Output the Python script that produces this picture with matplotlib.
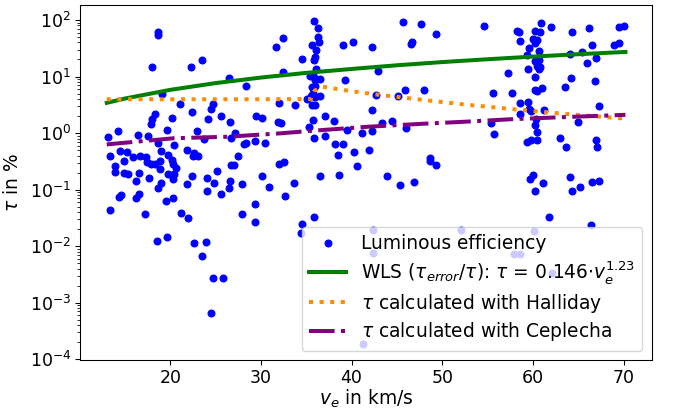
import numpy as np
import matplotlib
matplotlib.use('Agg')
import matplotlib.pyplot as plt

# --- Dati ---
# velocita' (km/s) e log10 dell'efficienza luminosa (%)
v_e = [
    18.7, 18.7, 18.0, 22.3, 23.5, 31.7, 26.5, 28.3, 19.1, 21.1,
    24.7, 24.5, 22.4, 18.3, 18.0, 17.9, 20.2, 24.2, 25.6, 26.6,
    29.5, 30.1, 32.0, 14.2, 13.1, 16.4, 17.6, 19.6, 23.0, 18.6,
    20.4, 23.7, 27.1, 26.7, 28.1, 28.4, 29.4, 30.5, 13.3, 14.5,
    15.2, 15.9, 16.7, 17.3, 17.4, 17.9, 18.3, 18.9, 19.0, 19.8,
    20.2, 20.3, 20.6, 21.9, 22.6, 23.1, 22.5, 14.9, 13.9, 13.9,
    14.9, 15.3, 16.5, 16.2, 17.7, 18.9, 19.0, 19.8, 20.2, 20.4,
    22.4, 24.0, 24.8, 25.1, 26.7, 27.0, 27.5, 30.1, 32.0, 26.6,
    27.9, 21.8, 20.3, 30.9, 18.6, 24.0, 26.5, 25.6, 14.3, 14.6,
    16.2, 16.5, 19.5, 20.3, 13.4, 17.2, 21.2, 22.0, 27.9, 29.4,
    29.3, 18.5, 19.6, 22.6, 23.9, 23.5, 24.7, 25.8, 24.5, 32.6,
    33.7, 34.5, 35.9, 34.4, 42.4, 42.4, 41.3, 45.3, 46.9, 52.1,
    59.7, 61.1, 60.2, 64.3, 65.2, 66.5, 67.3, 61.8, 66.4, 60.1,
    57.9, 58.6, 62.1, 60.0, 64.1, 35.9, 36.3, 36.3, 36.4, 35.6,
    36.1, 36.0, 35.9, 34.5, 32.4, 39.0, 40.1, 42.2, 45.7, 47.6,
    49.3, 46.7, 46.6, 32.4, 36.1, 35.4, 35.9, 36.5, 36.0, 39.3,
    42.9, 35.6, 36.0, 35.7, 35.5, 35.1, 36.0, 36.5, 35.6, 36.0,
    33.8, 42.2, 42.7, 45.1, 45.9, 48.0, 35.7, 37.1, 38.1, 31.9,
    32.2, 35.3, 35.9, 37.1, 39.5, 41.1, 42.3, 43.3, 44.4, 46.0,
    38.2, 39.1, 38.5, 40.3, 41.9, 48.6, 48.7, 49.3, 32.5, 40.6,
    36.5, 38.6, 43.9, 54.6, 58.2, 58.5, 60.9, 62.0, 60.2, 60.8,
    60.0, 60.5, 60.2, 58.6, 59.6, 60.7, 59.3, 60.2, 60.7, 64.3,
    66.2, 69.5, 70.0, 66.5, 68.9, 69.5, 65.4, 64.1, 66.9, 66.0,
    57.3, 59.4, 60.5, 60.7, 60.8, 60.2, 64.2, 66.8, 63.5, 55.6,
    57.7, 60.2, 60.4, 61.0, 58.6, 59.5, 59.6, 59.8, 61.2, 58.6,
    67.3, 60.3, 60.2, 55.4, 55.7, 65.0, 60.4, 59.3, 59.8, 60.5,
    63.0, 63.6, 67.0, 67.1,
]
log_tau = [
    1.78, 1.73, 1.16, 1.17, 1.29, 1.52, 0.98, 0.84, 0.69, 0.52,
    0.51, 0.42, 0.38, 0.34, 0.24, 0.16, 0.26, 0.24, 0.30, 0.20,
    0.30, 0.26, 0.53, 0.03, -0.07, -0.03, -0.05, 0.05, 0.03, -0.17,
    -0.21, -0.11, 0.00, -0.08, -0.20, -0.17, -0.14, -0.18, -0.41, -0.32,
    -0.34, -0.42, -0.41, -0.43, -0.51, -0.54, -0.54, -0.49, -0.31, -0.39,
    -0.48, -0.55, -0.61, -0.30, -0.35, -0.41, -0.40, -0.50, -0.58, -0.69,
    -0.71, -0.72, -0.70, -0.84, -0.79, -0.64, -0.88, -0.72, -0.74, -0.73,
    -0.76, -0.79, -0.88, -0.67, -0.57, -0.56, -0.41, -0.76, -0.54, -0.84,
    -0.90, -0.90, -0.81, -0.96, -0.97, -1.03, -0.97, -1.08, -1.13, -1.10,
    -1.14, -1.07, -1.21, -1.15, -1.36, -1.43, -1.41, -1.50, -1.44, -1.25,
    -1.57, -1.90, -1.84, -1.94, -1.93, -2.18, -2.56, -2.57, -3.19, -1.11,
    -0.88, -1.60, -1.48, -1.77, -1.72, -2.12, -3.73, -0.92, -0.86, -1.71,
    -0.82, -0.89, -1.03, -1.02, -0.95, -0.87, -0.84, -1.48, -1.63, -1.74,
    -2.13, -2.14, -2.47, -0.74, -0.78, 1.98, 1.85, 1.69, 1.61, 1.56,
    1.46, 1.35, 1.29, 1.31, 1.68, 1.56, 1.61, 1.53, 1.97, 1.92,
    1.76, 1.61, 1.57, 1.08, 1.13, 1.01, 1.00, 0.96, 0.93, 0.93,
    1.10, 0.81, 0.83, 0.71, 0.66, 0.60, 0.64, 0.65, 0.50, 0.50,
    0.50, 0.40, 0.68, 0.66, 0.76, 0.77, 0.23, 0.30, 0.22, 0.20,
    0.17, 0.10, -0.09, -0.06, 0.05, 0.00, 0.04, 0.18, 0.21, 0.09,
    -0.20, -0.19, -0.39, -0.34, -0.30, -0.44, -0.49, -0.56, -0.52, -0.59,
    -0.76, -0.74, -0.76, 1.89, 1.81, 1.79, 1.95, 1.88, 1.81, 1.79,
    1.66, 1.65, 1.59, 1.62, 1.50, 1.45, 1.38, 1.27, 1.30, 1.78,
    1.85, 1.88, 1.89, 1.55, 1.55, 1.59, 1.43, 1.39, 1.33, 1.24,
    1.06, 1.13, 1.19, 1.13, 1.16, 0.99, 0.98, 0.92, 0.82, 0.71,
    0.71, 0.77, 0.74, 0.79, 0.53, 0.55, 0.43, 0.39, 0.40, 0.33,
    0.48, 0.24, 0.14, 0.18, -0.02, 0.20, 0.01, -0.15, -0.13, -0.13,
    -0.09, -0.24, -0.13, -0.25,
]

# curva WLS (letta lungo la linea verde)
wls_v = [13.0, 15.0, 20.0, 25.0, 30.0, 35.0, 40.0, 45.0, 50.0, 55.0, 60.0, 65.0, 70.2]
wls_tau = [3.42, 4.08, 5.81, 7.65, 9.58, 11.6, 13.6, 15.8, 18.0, 20.2, 22.5, 24.8, 27.2]

# Halliday (arancione, puntinato)
hal_v = [13.0, 20.0, 30.0, 35.5, 35.9, 36.8, 39.0, 42.3, 47.0, 52.2, 58.7, 64.0, 70.2]
hal_tau = [3.96, 3.96, 3.96, 4.0, 5.6, 6.6, 5.8, 4.9, 4.0, 3.23, 2.56, 2.15, 1.80]

# Ceplecha (viola, tratto-punto)
cep_v = [13.0, 20.4, 26.3, 32.2, 35.4, 42.0, 47.5, 52.6, 57.4, 62.9, 70.2]
cep_tau = [0.63, 0.81, 0.86, 0.99, 1.09, 1.30, 1.45, 1.59, 1.75, 1.90, 2.10]

tau = 10 ** np.array(log_tau)

# --- Figura ---
plt.rcParams['font.size'] = 14
plt.rcParams['xtick.labelsize'] = 13
plt.rcParams['ytick.labelsize'] = 13
fig, ax = plt.subplots(figsize=(673 / 96, 412 / 96), dpi=96)
plt.subplots_adjust(left=0.1196, right=0.9684, top=0.9879, bottom=0.1262)

ax.plot(v_e, tau, 'o', color='blue', markersize=5, label='Luminous efficiency')
ax.plot(wls_v, wls_tau, '-', color='green', lw=3,
        label=r'WLS ($\tau_{error}/\tau$): $\tau$ = 0.146$\cdot v_e^{1.23}$')
ax.plot(hal_v, hal_tau, ':', color='darkorange', lw=3,
        label=r'$\tau$ calculated with Halliday')
ax.plot(cep_v, cep_tau, '-.', color='purple', lw=3,
        label=r'$\tau$ calculated with Ceplecha')

ax.set_yscale('log')
ax.set_xlim(10.1, 73.1)
ax.set_ylim(9.7e-5, 184)
ax.set_xlabel(r'$v_e$ in km/s', labelpad=0)
ax.set_ylabel(r'$\tau$ in %', labelpad=6)
ax.legend(loc='lower right', labelspacing=0.3)

fig.savefig('out.png', dpi=96)
